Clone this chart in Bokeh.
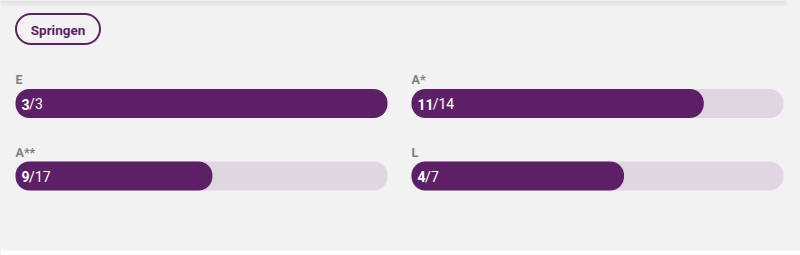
from bokeh.plotting import figure
from bokeh.models import Range1d
from bokeh.core.properties import value
from bokeh.embed import file_html
from bokeh.resources import INLINE

# ---- data ----
categories = ["E", "A*", "A**", "L"]
achieved = [3, 11, 9, 4]
totals = [3, 14, 17, 7]
button_label = "Springen"

# ---- style ----
PURPLE = "#5d1f66"
TRACK = "#e0d6e2"
BG = "#f2f2f2"
LABEL = "#808080"
FONT = "Roboto"

# panel slots (pixels)
col_x = [15, 411, 15, 411]
row_y = [103, 103, 175.5, 175.5]
BAR_W = 372
BAR_H = 29
W, H = 800, 255

p = figure(width=W, height=H, x_range=Range1d(0, W), y_range=Range1d(H, 0),
           output_backend="svg", toolbar_location=None, min_border=0,
           background_fill_color=BG, border_fill_color=BG, outline_line_color=None)
p.axis.visible = False
p.grid.visible = False

# top shadow
for i, a in enumerate([0.05, 0.045, 0.038, 0.03, 0.022, 0.015, 0.009, 0.004]):
    p.quad(left=0, right=786, top=i, bottom=i + 1.3, fill_color="black",
           fill_alpha=a, line_color=None)
# bottom white strip
p.quad(left=0, right=W, top=250, bottom=H, fill_color="white", line_color=None)

# button
p.hbar(y=28.5, height=30, left=15.5, right=99.5, fill_color=None,
       line_color=PURPLE, line_width=2, border_radius=15)
p.text(x=57.5, y=29, text=[button_label], text_font=value(FONT),
       text_font_style="bold", text_font_size="13.5px", text_color=PURPLE,
       text_align="center", text_baseline="middle")

for i, (cat, a, t) in enumerate(zip(categories, achieved, totals)):
    x0 = col_x[i]
    name = f"r{i}"
    p.extra_x_ranges[name] = Range1d(-x0 / BAR_W * t, (W - x0) / BAR_W * t)
    yc = row_y[i]
    p.hbar(y=yc, height=BAR_H, left=0, right=t, x_range_name=name,
           fill_color=TRACK, line_color=None, border_radius=14)
    p.hbar(y=yc, height=BAR_H, left=0, right=a, x_range_name=name,
           fill_color=PURPLE, line_color=None, border_radius=14)
    p.text(x=0, y=yc - 24, text=[cat], x_range_name=name,
           text_font=value(FONT), text_font_style="bold", text_font_size="12.5px",
           text_color=LABEL, text_baseline="middle")
    num = str(a)
    p.text(x=0, y=yc + 0.5, text=[num], x_range_name=name, x_offset=6,
           text_font=value(FONT), text_font_style="bold", text_font_size="14px",
           text_color="white", text_baseline="middle")
    p.text(x=0, y=yc + 0.5, text=["/" + str(t)], x_range_name=name,
           x_offset=6 + 7.6 * len(num),
           text_font=value(FONT), text_font_size="14px",
           text_color="white", text_baseline="middle")

html = file_html(p, INLINE)
html = html.replace("<head>", "<head><style>html,body{margin:0;background:#f2f2f2;overflow:hidden}</style>", 1)
open("out.html", "w").write(html)
